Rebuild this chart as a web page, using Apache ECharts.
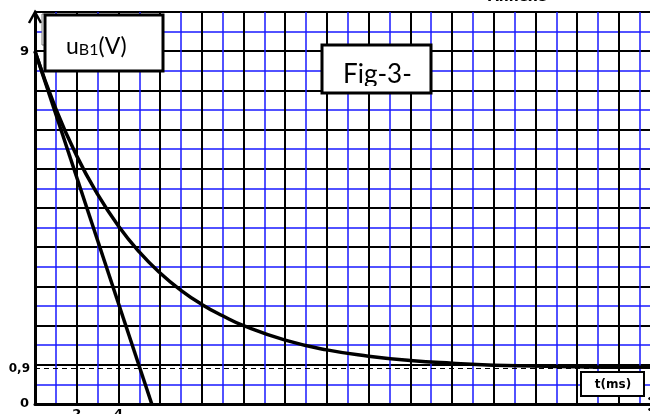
<!DOCTYPE html>
<html>
<head>
<meta charset="utf-8">
<script src="https://cdn.jsdelivr.net/npm/echarts@6/dist/echarts.min.js"></script>
<style>html,body{margin:0;padding:0;background:#fff;}#c{width:650px;height:414px;}</style>
</head>
<body>
<div id="c"></div>
<script>
// Data
const tValues = [0, 1, 2, 3, 4, 5, 6, 7, 8, 9, 10, 12, 14, 16, 18, 20, 22, 24, 26, 28, 30];
const uValues = [9, 7.53, 6.33, 5.35, 4.54, 3.88, 3.34, 2.90, 2.54, 2.25, 2.0, 1.63, 1.38, 1.22, 1.11, 1.04, 0.99, 0.97, 0.95, 0.94, 0.94];
const tangentT = [0, 5.6];
const tangentU = [9, 0];
const asymptote = 0.9;
const xTickLabels = ['2', '4'];
const yTickLabels = ['0', '9'];

const curveData = tValues.map((t, i) => [t, uValues[i]]);
const tangentData = tangentT.map((t, i) => [t, tangentU[i]]);

const chart = echarts.init(document.getElementById('c'), null, {renderer: 'canvas'});
const labelFont = {fontFamily: 'DejaVu Sans', fontWeight: 'bold', fontSize: 13, color: '#000'};

chart.setOption({
  animation: false,
  backgroundColor: '#fff',
  grid: {left: 35, top: 12, width: 625.5, height: 392, containLabel: false, outerBoundsMode: 'none'},
  xAxis: {
    type: 'value', min: 0, max: 30, interval: 2,
    axisLine: {show: true, onZero: false, lineStyle: {color: '#000', width: 3}},
    axisTick: {show: false},
    minorTick: {show: false, splitNumber: 2},
    splitLine: {show: true, lineStyle: {color: '#000', width: 2}},
    minorSplitLine: {show: true, lineStyle: {color: '#1a1aff', width: 1.5}},
    axisLabel: Object.assign({margin: 4, showMinLabel: true, showMaxLabel: true,
      formatter: v => xTickLabels.indexOf(String(v)) >= 0 ? String(v) : ''}, labelFont)
  },
  yAxis: {
    type: 'value', min: 0, max: 10, interval: 1,
    axisLine: {show: true, onZero: false, lineStyle: {color: '#000', width: 3}},
    axisTick: {show: false},
    minorTick: {show: false, splitNumber: 2},
    splitLine: {show: true, lineStyle: {color: '#000', width: 2}},
    minorSplitLine: {show: true, lineStyle: {color: '#1a1aff', width: 1.5}},
    axisLabel: Object.assign({margin: 6,
      formatter: v => yTickLabels.indexOf(String(v)) >= 0 ? String(v) : ''}, labelFont)
  },
  series: [
    {
      type: 'line', data: curveData, smooth: true, showSymbol: false, symbol: 'none',
      lineStyle: {color: '#000', width: 3.5}, z: 5,
      markLine: {
        silent: true, symbol: 'none',
        lineStyle: {color: '#000', width: 1, type: [5, 4]},
        label: Object.assign({position: 'start', distance: 5, formatter: '0,9'}, labelFont, {fontSize: 12}),
        data: [{yAxis: asymptote}]
      }
    },
    {
      type: 'line', data: tangentData, showSymbol: false, symbol: 'none',
      lineStyle: {color: '#000', width: 3.5}, z: 5
    }
  ]
});

// decorations: arrows and text boxes
const o = chart.convertToPixel({gridIndex: 0}, [0, 10]);
const xr = chart.convertToPixel({gridIndex: 0}, [30, 0]);
chart.setOption({
  graphic: [
    {type: 'polyline', z: 20, shape: {points: [[o[0] - 6, o[1] + 11], [o[0], o[1]], [o[0] + 6, o[1] + 11]]},
      style: {stroke: '#000', lineWidth: 2.5, fill: null}},
    {type: 'polyline', z: 20, shape: {points: [[xr[0] - 12, xr[1] - 6], [xr[0], xr[1]], [xr[0] - 12, xr[1] + 6]]},
      style: {stroke: '#000', lineWidth: 2.5, fill: null}},
    {type: 'rect', z: 20, shape: {x: 42, y: 14, width: 12, height: 31},
      style: {fill: '#fff', stroke: '#777', lineWidth: 1}},
    {type: 'rect', z: 21, shape: {x: 45, y: 15, width: 118, height: 56},
      style: {fill: '#fff', stroke: '#000', lineWidth: 3}},
    {type: 'text', z: 22, left: 66, top: 35,
      style: {text: '{a|u}{b|B1}{a|(V)}', rich: {
        a: {fontFamily: 'Lato', fontSize: 23, fill: '#000', verticalAlign: 'bottom', lineHeight: 26},
        b: {fontFamily: 'Lato', fontSize: 16, fill: '#000', verticalAlign: 'bottom', lineHeight: 26}
      }}},
    {type: 'rect', z: 21, shape: {x: 322, y: 45, width: 109, height: 48},
      style: {fill: '#fff', stroke: '#000', lineWidth: 3}},
    {type: 'text', z: 22, x: 343, y: 75,
      style: {text: 'Fig-3-', fontFamily: 'Lato', fontSize: 26, fill: '#000', verticalAlign: 'middle'}},
    {type: 'rect', z: 23, shape: {x: 324, y: 86, width: 105, height: 5},
      style: {fill: '#fff', stroke: null}},
    {type: 'rect', z: 21, shape: {x: 581, y: 372, width: 63, height: 24},
      style: {fill: '#fff', stroke: '#000', lineWidth: 2}},
    {type: 'text', z: 22, x: 613, y: 385,
      style: {text: 't(ms)', fontFamily: 'DejaVu Sans', fontWeight: 'bold', fontSize: 12, fill: '#000', align: 'center', verticalAlign: 'middle'}},
    {type: 'text', z: 22, x: 488, y: 4,
      style: {text: 'Annexe', fontFamily: 'DejaVu Sans', fontWeight: 'bold', fontSize: 14, fill: '#000', verticalAlign: 'bottom'}}
  ]
});
</script>
</body>
</html>
